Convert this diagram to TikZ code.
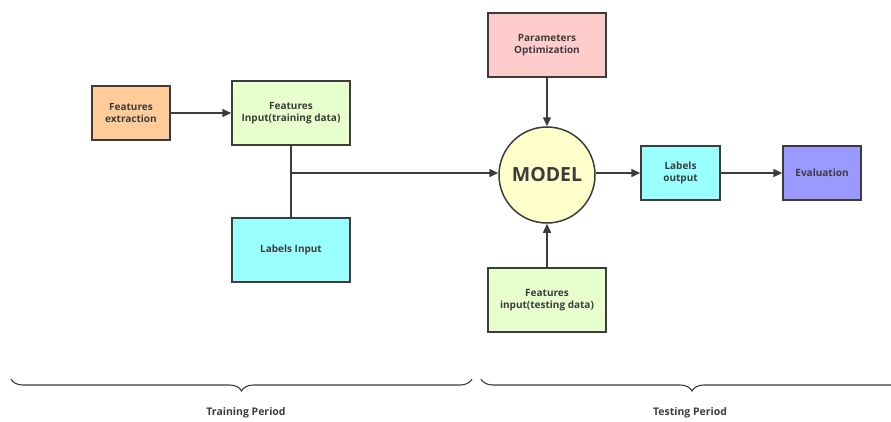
\documentclass[tikz,border=0pt]{standalone}
\usepackage{fontspec}
\setmainfont{Open Sans}
\usetikzlibrary{arrows.meta,decorations.pathreplacing}
\definecolor{edge}{HTML}{3C3C3C}
\definecolor{cOrange}{HTML}{FFCC99}
\definecolor{cGreen}{HTML}{E6FFCC}
\definecolor{cCyan}{HTML}{99FFFF}
\definecolor{cPink}{HTML}{FFCCCC}
\definecolor{cYellow}{HTML}{FFFFCC}
\definecolor{cViolet}{HTML}{9999FF}
\tikzset{
  box/.style={draw=edge, line width=1.5pt, rectangle, align=center,
    font=\fontsize{10}{12.5}\selectfont\bfseries, text=edge, inner sep=0pt},
  link/.style={draw=edge, line width=1.5pt},
  arrow/.style={link, -{Triangle[length=9pt,width=8pt]}},
  period/.style={draw=edge, line width=1.1pt,
    decorate, decoration={brace, mirror, amplitude=12pt}},
  periodlabel/.style={font=\fontsize{10.5}{12}\selectfont\bfseries, text=edge}
}
\begin{document}
\begin{tikzpicture}[x=1pt,y=-1pt]
\useasboundingbox (0,0) rectangle (891,421);
\begin{scope}
\clip (0,0) rectangle (891,421);

% training side
\node[box, fill=cOrange, minimum width=78pt, minimum height=54pt] (fext) at (131,113) {Features\\extraction};
\node[box, fill=cGreen, minimum width=118pt, minimum height=64pt] (ftrain) at (291,113) {Features\\Input(training data)};
\node[box, fill=cCyan, minimum width=118pt, minimum height=64pt] (lin) at (291,250) {Labels Input};

% model and testing side
\node[box, fill=cPink, minimum width=118pt, minimum height=64pt] (popt) at (547,45) {Parameters\\Optimization};
\node[draw=edge, line width=1.5pt, circle, fill=cYellow, minimum size=96pt, inner sep=0pt,
  font=\fontsize{19.5}{22}\selectfont\bfseries, text=edge] (model) at (547,175) {MODEL};
\node[box, fill=cGreen, minimum width=118pt, minimum height=64pt] (ftest) at (547,300) {Features\\input(testing data)};
\node[box, fill=cCyan, minimum width=79pt, minimum height=54pt] (lout) at (680.5,173) {Labels\\output};
\node[box, fill=cViolet, minimum width=78pt, minimum height=54pt] (eval) at (822,173) {Evaluation};

% junction joining features and labels
\coordinate (join) at (291,173);

\draw[arrow] (fext) -- (ftrain);
\draw[link] (ftrain) -- (lin);
\draw[arrow] (join) -- (model.west |- join);
\draw[arrow] (popt) -- (model);
\draw[arrow] (ftest) -- (model);
\draw[arrow] (model.east |- lout) -- (lout);
\draw[arrow] (lout) -- (eval);

% period braces
\coordinate (trA) at (11,379);
\coordinate (trB) at (472,379);
\coordinate (teA) at (481,379);
\coordinate (teB) at (903,379);
\draw[period] (trA) -- (trB);
\draw[period] (teA) -- (teB);
\end{scope}
\node[periodlabel] (trlabel) at (246,413) {Training Period};
\node[periodlabel] (telabel) at (690,413) {Testing Period};
\end{tikzpicture}
\end{document}
